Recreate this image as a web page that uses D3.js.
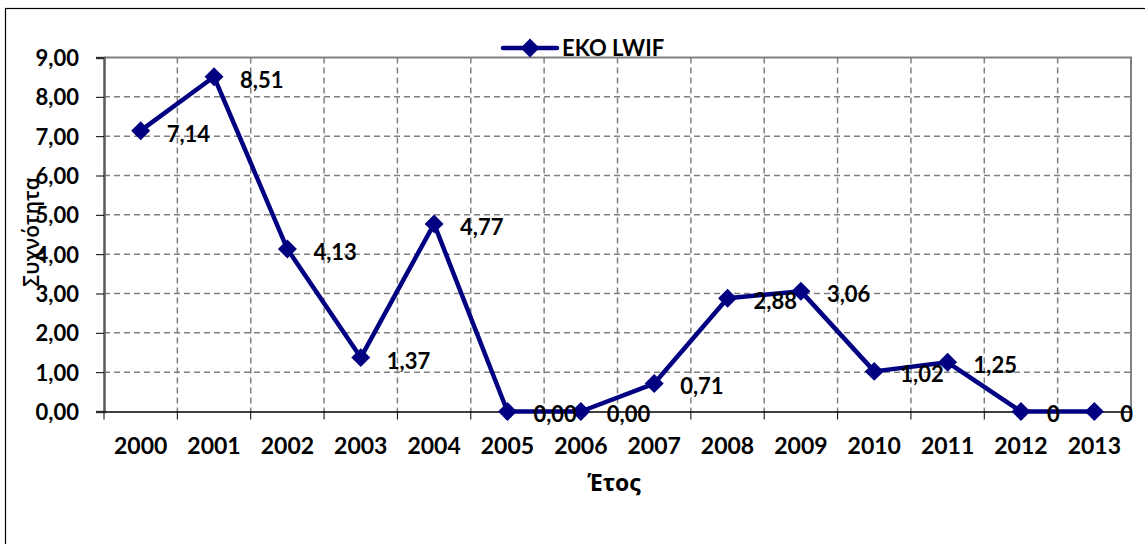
<!DOCTYPE html>
<html>
<head>
<meta charset="utf-8">
<script src="https://cdn.jsdelivr.net/npm/d3@7"></script>
<style>
  body { margin: 0; background: #fff; }
  svg text { font-family: Lato, "Open Sans", sans-serif; font-weight: bold; fill: #000; }
  svg text.greek { font-family: "Open Sans", "Noto Sans", sans-serif; }
</style>
</head>
<body>
<div id="chart"></div>
<script>
// data
const years = ["2000","2001","2002","2003","2004","2005","2006","2007","2008","2009","2010","2011","2012","2013"];
const values = [7.14, 8.51, 4.13, 1.37, 4.77, 0.00, 0.00, 0.71, 2.88, 3.06, 1.02, 1.25, 0, 0];
const labels = ["7,14","8,51","4,13","1,37","4,77","0,00","0,00","0,71","2,88","3,06","1,02","1,25","0","0"];
const yTicks = [0,1,2,3,4,5,6,7,8,9];
const seriesName = "EKO LWIF";

const LINE_COLOR = "#000080";
const GRID_COLOR = "#808080";

let width = 1145, height = 544;
let plotLeft = 104, plotRight = 1131, plotTop = 57.5, plotBottom = 411.5;

let svg = d3.select("#chart").append("svg")
    .attr("width", width)
    .attr("height", height);

// outer frame (only top/left visible in the picture)
svg.append("rect")
    .attr("x", 5.5).attr("y", 8.5)
    .attr("width", 1150).attr("height", 560)
    .attr("fill", "none").attr("stroke", "#000").attr("stroke-width", 1.2);

let x = d3.scaleBand().domain(years).range([plotLeft, plotRight]);
let y = d3.scaleLinear().domain([0, 9]).range([plotBottom, plotTop]);

// horizontal grid
svg.append("g").selectAll("line")
    .data(yTicks.filter(d => d > 0 && d < 9))
    .enter().append("line")
    .attr("x1", plotLeft).attr("x2", plotRight)
    .attr("y1", d => y(d)).attr("y2", d => y(d))
    .attr("stroke", GRID_COLOR).attr("stroke-width", 1.5)
    .attr("stroke-dasharray", "6,4");

// vertical grid at category boundaries
svg.append("g").selectAll("line")
    .data(years.slice(1))
    .enter().append("line")
    .attr("x1", d => x(d)).attr("x2", d => x(d))
    .attr("y1", plotTop).attr("y2", plotBottom)
    .attr("stroke", GRID_COLOR).attr("stroke-width", 1.5)
    .attr("stroke-dasharray", "6,4");

// top & right plot border
svg.append("path")
    .attr("d", `M${plotLeft},${plotTop}H${plotRight}V${plotBottom}`)
    .attr("fill", "none").attr("stroke", GRID_COLOR).attr("stroke-width", 2);

// y axis
let yAxis = svg.append("g")
    .attr("transform", `translate(${plotLeft},0)`)
    .call(d3.axisLeft(y).tickValues(yTicks).tickSize(8).tickPadding(17)
        .tickFormat(d => d3.format(".2f")(d).replace(".", ",")));
yAxis.select(".domain").attr("stroke", "#595959").attr("stroke-width", 2.5);
yAxis.selectAll(".tick line").attr("stroke", "#000").attr("stroke-width", 1);
yAxis.selectAll("text").style("font-size", "22px").attr("dy", "0.36em");

// x axis
let xAxis = svg.append("g")
    .attr("transform", `translate(0,${plotBottom})`)
    .call(d3.axisBottom(x).tickSize(0).tickPadding(26));
xAxis.select(".domain").attr("stroke", "#000").attr("stroke-width", 1.5);
xAxis.selectAll("text").style("font-size", "23px");
// tick marks between categories
xAxis.selectAll(".xtick").data(years.concat(["end"]))
    .enter().append("line")
    .attr("x1", (d, i) => plotLeft + i * x.bandwidth())
    .attr("x2", (d, i) => plotLeft + i * x.bandwidth())
    .attr("y1", 0).attr("y2", 8)
    .attr("stroke", "#000").attr("stroke-width", 1);

// axis titles
svg.append("text")
    .attr("class", "greek")
    .attr("x", 614).attr("y", 491)
    .attr("text-anchor", "middle")
    .style("font-size", "23px")
    .text("Έτος");

svg.append("text")
    .attr("class", "greek")
    .attr("transform", "translate(39,232) rotate(-90)")
    .attr("text-anchor", "middle")
    .style("font-size", "21px")
    .style("font-weight", "600")
    .text("Συχνότητα");

// line
let line = d3.line()
    .x((d, i) => x(years[i]) + x.bandwidth() / 2)
    .y(d => y(d));

svg.append("path")
    .datum(values)
    .attr("d", line)
    .attr("fill", "none")
    .attr("stroke", LINE_COLOR)
    .attr("stroke-width", 4.5)
    .attr("stroke-linejoin", "round");

let diamond = d3.symbol().type(d3.symbolSquare).size(180);

svg.append("g").selectAll("path")
    .data(values)
    .enter().append("path")
    .attr("d", diamond)
    .attr("transform", (d, i) => `translate(${x(years[i]) + x.bandwidth() / 2},${y(d)}) rotate(45)`)
    .attr("fill", LINE_COLOR);

// data labels
svg.append("g").selectAll("text")
    .data(values)
    .enter().append("text")
    .attr("x", (d, i) => x(years[i]) + x.bandwidth() / 2 + 26)
    .attr("y", d => y(d) + 3)
    .attr("dy", "0.36em")
    .style("font-size", "22px")
    .text((d, i) => labels[i]);

// legend
let lg = svg.append("g");
lg.append("line")
    .attr("x1", 503).attr("x2", 557).attr("y1", 48).attr("y2", 48)
    .attr("stroke", LINE_COLOR).attr("stroke-width", 4.5).attr("stroke-linecap", "round");
lg.append("path")
    .attr("d", diamond)
    .attr("transform", "translate(530,48) rotate(45)")
    .attr("fill", LINE_COLOR);
lg.append("text")
    .attr("x", 562).attr("y", 56)
    .style("font-size", "22px")
    .text(seriesName);
</script>
</body>
</html>
